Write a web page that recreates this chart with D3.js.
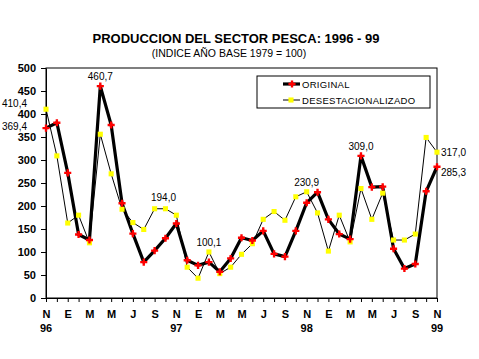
<!DOCTYPE html>
<html>
<head>
<meta charset="utf-8">
<script src="https://cdn.jsdelivr.net/npm/d3@7"></script>
<style>
body{margin:0;background:#fff;}
svg{display:block;font-family:"Liberation Sans",Arial,sans-serif;}
</style>
</head>
<body>
<svg id="chart" width="479" height="359"></svg>
<script>
// monthly data, Nov 1996 .. Nov 1999
const monthLetters = ["N","D","E","F","M","A","M","J","J","A","S","O"];
const yearLabels = ["96","97","98","99"];
const original = [369.4,381,272,138,126,460.7,376,206,140,78,103,130,162,82,71,78,57,86,131,125,146,96,90,146,207,230,171,139,128,309.0,241,242,107,64,74,232,285.3];
const desest = [410.4,309,163,180,120,356,270,193,164,149,194.0,194,180,67,43,100.1,53,67,95,118,171,188,169,220,230.9,185,102,180,122,238,171,228,126,126,139,349,317.0];
const yTicks = [0,50,100,150,200,250,300,350,400,450,500];
const seriesNames = ["ORIGINAL","DESESTACIONALIZADO"];

// value labels: [series, index, text]
const annotations = [
  ["d",0,"410,4"],["o",0,"369,4"],["o",5,"460,7"],["d",11,"194,0"],
  ["d",15,"100,1"],["d",24,"230,9"],["o",29,"309,0"],["d",36,"317,0"],["o",36,"285,3"]
];

const svg = d3.select("#chart");
const pLeft=46, pRight=437, pTop=68, pBottom=298;

const x = d3.scaleLinear().domain([0,original.length-1]).range([pLeft,pRight]);
const y = d3.scaleLinear().domain([0,500]).range([pBottom,pTop]);

svg.append("text").attr("x",236).attr("y",43).attr("text-anchor","middle")
  .attr("font-size",13).attr("font-weight","bold")
  .text("PRODUCCION DEL SECTOR PESCA: 1996 - 99");
svg.append("text").attr("x",229).attr("y",57).attr("text-anchor","middle")
  .attr("font-size",10.5)
  .text("(INDICE AÑO BASE 1979 = 100)");

// plot frame
svg.append("rect").attr("x",pLeft).attr("y",pTop).attr("width",pRight-pLeft).attr("height",pBottom-pTop)
  .attr("fill","none").attr("stroke","#000").attr("stroke-width",1);

let yAxis = svg.append("g").attr("transform",`translate(${pLeft},0)`)
  .call(d3.axisLeft(y).tickValues(yTicks).tickSize(5).tickSizeOuter(0).tickPadding(5));
yAxis.selectAll("text").attr("font-size",11).attr("font-weight","bold").attr("font-family","Liberation Sans, Arial").attr("fill","#000");

let xAxis = svg.append("g").attr("transform",`translate(0,${pBottom})`)
  .call(d3.axisBottom(x).tickValues(d3.range(original.length)).tickSize(4).tickSizeOuter(0)
    .tickFormat(i => i%2===0 ? monthLetters[i%12] : "").tickPadding(8));
xAxis.selectAll("text").attr("font-size",11).attr("font-weight","bold").attr("font-family","Liberation Sans, Arial").attr("fill","#000");
svg.selectAll(".domain, .tick line").attr("stroke","#000");

yearLabels.forEach((yr,k)=>{
  svg.append("text").attr("x",x(k*12)).attr("y",332).attr("text-anchor","middle")
    .attr("font-size",11).attr("font-weight","bold").text(yr);
});

const line = d3.line().x((d,i)=>x(i)).y(d=>y(d));

svg.append("path").datum(desest).attr("d",line).attr("fill","none").attr("stroke","#000").attr("stroke-width",1);
svg.append("path").datum(original).attr("d",line).attr("fill","none").attr("stroke","#000").attr("stroke-width",3.2).attr("stroke-linejoin","round");

const sq = d3.symbol().type(d3.symbolSquare).size(26);
const cr = d3.symbol().type(d3.symbolCross).size(28);

svg.selectAll(".dm").data(desest).join("path").attr("class","dm")
  .attr("d",sq).attr("transform",(d,i)=>`translate(${x(i)},${y(d)})`).attr("fill","#ffff00");
svg.selectAll(".om").data(original).join("path").attr("class","om")
  .attr("d",cr).attr("transform",(d,i)=>`translate(${x(i)},${y(d)})`).attr("fill","#ff0000");

// annotations
annotations.forEach(([s,i,t])=>{
  const v = s==="o" ? original[i] : desest[i];
  let tx=x(i), ty=y(v)-6, anchor="middle";
  if(i===0){ tx=27; ty=y(v)+(s==="d"?-2:2); anchor="end"; }
  else if(i===original.length-1){ tx=x(i)+4; ty=y(v)+(s==="d"?4:9); anchor="start"; }
  else if(i===11){ tx=x(i)-2; ty=y(v)-8; }
  svg.append("text").attr("x",tx).attr("y",ty).attr("text-anchor",anchor)
    .attr("font-size",10).text(t);
});

// legend
const lg = svg.append("g");
lg.append("rect").attr("x",257).attr("y",76).attr("width",173).attr("height",32)
  .attr("fill","#fff").attr("stroke","#000").attr("stroke-width",1);
seriesNames.forEach((name,k)=>{
  const ly = 84+k*16;
  lg.append("line").attr("x1",283).attr("x2",300).attr("y1",ly).attr("y2",ly)
    .attr("stroke","#000").attr("stroke-width",k===0?3.2:1);
  lg.append("path").attr("d",k===0?cr:sq).attr("transform",`translate(${k===0?292:291},${ly})`)
    .attr("fill",k===0?"#ff0000":"#ffff00");
  lg.append("text").attr("x",302).attr("y",ly+3.5).attr("font-size",9.5).attr("letter-spacing",0.3).text(name);
});
</script>
</body>
</html>
